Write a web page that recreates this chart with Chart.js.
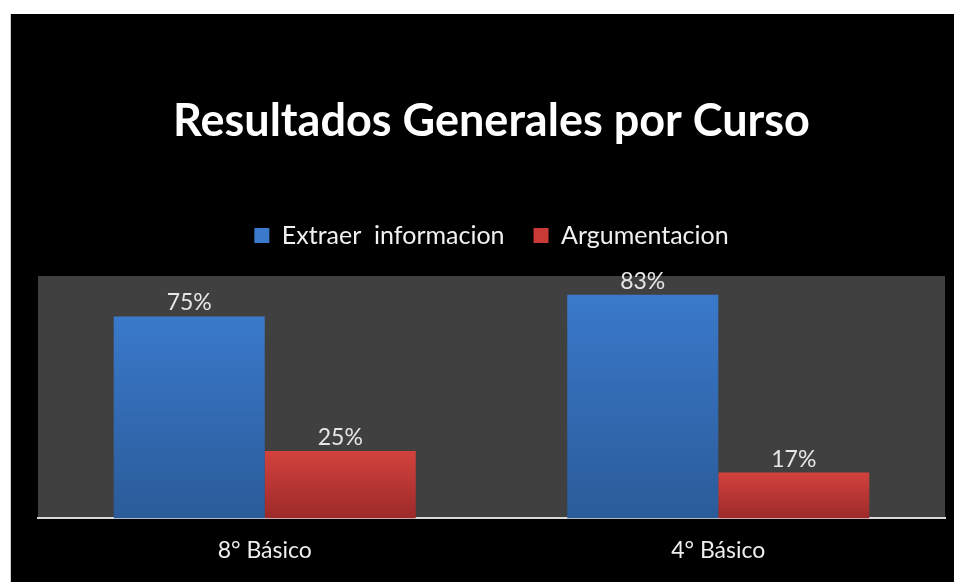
<!DOCTYPE html>
<html>
<head>
<meta charset="utf-8">
<script src="https://cdn.jsdelivr.net/npm/chart.js@4"></script>
<style>
  body { margin: 0; background: #fff; }
  #box {
    position: absolute; left: 10px; top: 14px;
    width: 944px; height: 568px; background: #000;
    border-left: 1px solid #d0d0d0; box-sizing: border-box;
  }
</style>
</head>
<body>
<div id="box"><canvas id="chart"></canvas></div>
<script>
// Datos del grafico
const cursos = ["8° Básico", "4° Básico"];
const extraer = [75, 83];
const argumentacion = [25, 17];
const serieNombres = ["Extraer  informacion", "Argumentacion"];

// colores degradados por barra (arriba claro, abajo oscuro)
function degradado(arriba, abajo) {
    return (ctx) => {
        const chart = ctx.chart;
        const area = chart.chartArea;
        if (!area || ctx.raw === undefined) return arriba;
        const yTop = chart.scales.y.getPixelForValue(ctx.raw);
        const g = chart.ctx.createLinearGradient(0, yTop, 0, area.bottom);
        g.addColorStop(0, arriba);
        g.addColorStop(1, abajo);
        return g;
    };
}

// fondo gris del area de grafico
const fondoArea = {
    id: "fondoArea",
    beforeDraw(chart) {
        const { ctx, chartArea: a } = chart;
        ctx.save();
        ctx.fillStyle = "#404040";
        ctx.fillRect(a.left, a.top, a.right - a.left, a.bottom - a.top);
        ctx.restore();
    }
};

// espacio extra debajo de la leyenda
const espacioLeyenda = {
    id: "espacioLeyenda",
    beforeInit(chart) {
        const fitOrig = chart.legend.fit;
        chart.legend.fit = function () {
            fitOrig.call(this);
            this.height += 18;
        };
    }
};

// etiquetas de porcentaje encima de las barras
const etiquetas = {
    id: "etiquetas",
    afterDatasetsDraw(chart) {
        const ctx = chart.ctx;
        ctx.save();
        ctx.font = "23px Lato";
        ctx.fillStyle = "#e6e6e6";
        ctx.textAlign = "center";
        ctx.textBaseline = "alphabetic";
        chart.data.datasets.forEach((ds, i) => {
            chart.getDatasetMeta(i).data.forEach((bar, j) => {
                ctx.fillText(ds.data[j] + "%", bar.x, bar.y - 6);
            });
        });
        ctx.restore();
    }
};

new Chart(document.getElementById("chart"), {
    type: "bar",
    data: {
        labels: cursos,
        datasets: [
            {
                label: serieNombres[0],
                data: extraer,
                backgroundColor: degradado("#3a79cb", "#2b5b99"),
                legendColor: "#3a79cb"
            },
            {
                label: serieNombres[1],
                data: argumentacion,
                backgroundColor: degradado("#d3423d", "#9c2a2a"),
                legendColor: "#c93a36"
            }
        ]
    },
    options: {
        responsive: true,
        maintainAspectRatio: false,
        animation: false,
        layout: { padding: { left: 27, right: 9, top: 0, bottom: 8 } },
        datasets: { bar: { categoryPercentage: 0.666, barPercentage: 1 } },
        plugins: {
            title: {
                display: true,
                text: "Resultados Generales por Curso",
                color: "#ffffff",
                font: { family: "Lato", size: 45, weight: "bold" },
                padding: { top: 80, bottom: 46 }
            },
            legend: {
                position: "top",
                labels: {
                    color: "#f0f0f0",
                    font: { family: "Lato", size: 25 },
                    boxWidth: 15,
                    boxHeight: 15,
                    padding: 29,
                    generateLabels(chart) {
                        return chart.data.datasets.map((ds, i) => ({
                            text: ds.label,
                            fillStyle: ds.legendColor,
                            strokeStyle: ds.legendColor,
                            lineWidth: 0,
                            fontColor: "#f0f0f0",
                            datasetIndex: i
                        }));
                    }
                }
            },
            tooltip: { enabled: false }
        },
        scales: {
            x: {
                grid: { display: false },
                border: { display: true, color: "#d9d9d9", width: 2 },
                ticks: { color: "#eeeeee", font: { family: "Lato", size: 23 }, padding: 10 }
            },
            y: {
                display: false,
                min: 0,
                max: 90
            }
        }
    },
    plugins: [espacioLeyenda, fondoArea, etiquetas]
});
</script>
</body>
</html>
